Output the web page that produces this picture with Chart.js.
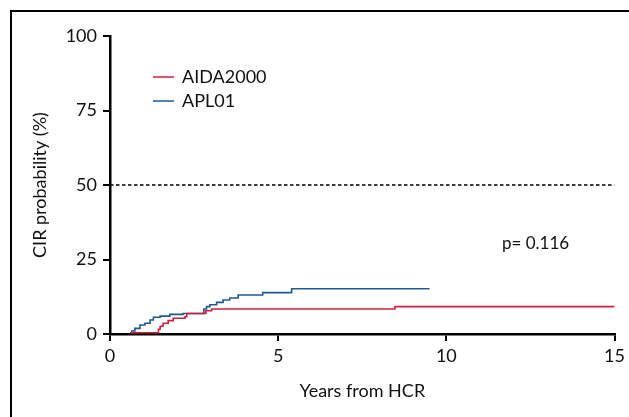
<!DOCTYPE html>
<html>
<head>
<meta charset="utf-8">
<script src="https://cdn.jsdelivr.net/npm/chart.js@4"></script>
<style>
  html, body { margin: 0; padding: 0; background: #fff; }
  #wrap { position: relative; width: 629px; height: 417px; }
  #frame { position: absolute; left: 10px; top: 10px; right: 0; bottom: 0;
           border-left: 2.5px solid #000; border-top: 2.5px solid #000; pointer-events: none; }
  canvas { position: absolute; left: 0; top: 0; }
</style>
</head>
<body>
<div id="wrap">
  <canvas id="c" width="629" height="417"></canvas>
  <div id="frame"></div>
</div>
<script>
// ---- data ----
const seriesNames = ["AIDA2000", "APL01"];
const aidaYears = [0.6, 1.44, 1.49, 1.53, 1.58, 1.73, 1.88, 2.23, 2.28, 2.85, 3.02, 8.47, 15];
const aidaCIR   = [0.4, 1.6, 2.5, 2.7, 3.6, 4.5, 5.3, 5.8, 6.9, 7.8, 8.4, 9.2, 9.2];
const aplYears  = [0.6, 0.65, 0.74, 0.89, 1.04, 1.19, 1.29, 1.49, 1.78, 2.17, 2.79, 2.87, 2.97, 3.17, 3.36, 3.56, 3.81, 4.54, 5.4, 9.5];
const aplCIR    = [0.4, 1.0, 1.9, 3.0, 3.6, 4.7, 5.6, 6.0, 6.6, 6.9, 8.4, 9.2, 9.8, 10.6, 11.4, 12.1, 13.1, 13.9, 15.2, 15.2];
const refYears  = [0, 15];
const refLevel  = [50, 50];
const xTicks = [0, 5, 10, 15];
const yTicks = [0, 25, 50, 75, 100];
const pText = "p= 0.116";
const xTitle = "Years from HCR";
const yTitle = "CIR probability (%)";

const RED = "#cf1f3f";
const BLUE = "#1f5896";
const FONT = "Lato, 'Open Sans', sans-serif";

const toPts = (xs, ys) => xs.map((x, i) => ({ x: x, y: ys[i] }));

const overlay = {
  id: "overlay",
  afterDatasetsDraw(chart) {
    const ctx = chart.ctx;
    const xs = chart.scales.x, ys = chart.scales.y;
    ctx.save();
    // legend
    const items = [[seriesNames[0], RED, 77], [seriesNames[1], BLUE, 101]];
    ctx.font = "18px " + FONT;
    ctx.textBaseline = "middle";
    ctx.textAlign = "left";
    items.forEach(([t, c, y]) => {
      ctx.strokeStyle = c; ctx.lineWidth = 1.5;
      ctx.beginPath(); ctx.moveTo(153, y); ctx.lineTo(174, y); ctx.stroke();
      ctx.fillStyle = "#111";
      ctx.fillText(t, 182, y);
    });
    // p-value
    ctx.font = "17px " + FONT;
    ctx.fillText(pText, 502, 244);
    ctx.restore();
  }
};

new Chart(document.getElementById("c"), {
  type: "line",
  data: {
    datasets: [
      { label: seriesNames[0], data: toPts(aidaYears, aidaCIR), borderColor: RED, borderWidth: 1.6,
        stepped: "before", pointRadius: 0, fill: false },
      { label: seriesNames[1], data: toPts(aplYears, aplCIR), borderColor: BLUE, borderWidth: 1.6,
        stepped: "before", pointRadius: 0, fill: false },
      { label: "ref", data: toPts(refYears, refLevel), borderColor: "#000", borderWidth: 1.5,
        borderDash: [3.5, 2.5], pointRadius: 0, fill: false }
    ]
  },
  options: {
    responsive: false,
    animation: false,
    layout: { padding: { left: 0, right: 14, top: 36, bottom: 0 } },
    plugins: { legend: { display: false }, tooltip: { enabled: false } },
    scales: {
      x: {
        type: "linear", min: 0, max: 15,
        afterFit: s => { s.height = 83; },
        afterBuildTicks: s => { s.ticks = xTicks.map(v => ({ value: v })); },
        border: { display: true, color: "#000", width: 2.5 },
        grid: { display: true, drawOnChartArea: false, drawTicks: true, tickLength: 7, color: "#000", lineWidth: 2 },
        ticks: { color: "#111", font: { family: FONT, size: 18 }, padding: 4, maxRotation: 0 },
        title: { display: true, text: xTitle, color: "#111", font: { family: FONT, size: 18 },
                 padding: { top: 0, bottom: 15 } }
      },
      y: {
        type: "linear", min: 0, max: 100,
        afterFit: s => { s.width = 110; },
        afterBuildTicks: s => { s.ticks = yTicks.map(v => ({ value: v })); },
        border: { display: true, color: "#000", width: 2.5 },
        grid: { display: true, drawOnChartArea: false, drawTicks: true, tickLength: 7, color: "#000", lineWidth: 2 },
        ticks: { color: "#111", font: { family: FONT, size: 18 }, padding: 6 },
        title: { display: true, text: yTitle, color: "#111", font: { family: FONT, size: 18 },
                 padding: { top: 29, bottom: 0 } }
      }
    }
  },
  plugins: [overlay]
});
</script>
</body>
</html>
